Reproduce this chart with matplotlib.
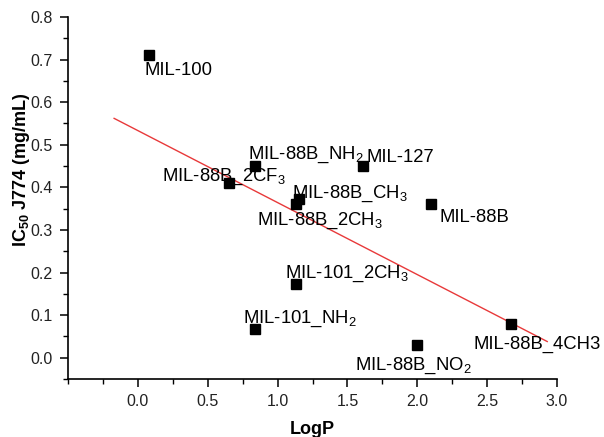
import matplotlib
matplotlib.use("Agg")
import matplotlib.pyplot as plt
from matplotlib.ticker import MultipleLocator

plt.rcParams['font.family'] = ['Liberation Sans', 'DejaVu Sans']
plt.rcParams['mathtext.fontset'] = 'custom'
plt.rcParams['mathtext.rm'] = 'Liberation Sans'
plt.rcParams['mathtext.bf'] = 'Liberation Sans:bold'
plt.rcParams['mathtext.default'] = 'regular'

# data
names = ["MIL-100", "MIL-88B_NH$_2$", "MIL-88B_2CF$_3$", "MIL-127", "MIL-88B",
         "MIL-88B_CH$_3$", "MIL-88B_2CH$_3$", "MIL-101_2CH$_3$", "MIL-101_NH$_2$",
         "MIL-88B_NO$_2$", "MIL-88B_4CH3"]
logp = [0.08, 0.84, 0.65, 1.61, 2.10, 1.15, 1.13, 1.13, 0.84, 2.00, 2.67]
ic50 = [0.71, 0.45, 0.41, 0.45, 0.362, 0.372, 0.362, 0.172, 0.068, 0.031, 0.08]
# label offsets in points (text left / baseline relative to point)
label_dx = [-3, -5, -48, 3, 6, -5, -28, -8, -9, -45, -27]
label_dy = [-14, 5, 2, 3, -13, 1, -15, 5, 4, -18, -18]

fit_x = [-0.17, 2.93]
fit_y = [0.562, 0.038]

fig = plt.figure(figsize=(6.04, 4.37), dpi=100)
ax = fig.add_axes([0.1126, 0.1327, 0.8096, 0.8284])

ax.plot(fit_x, fit_y, color='#e8393a', lw=1.0, zorder=2)
ax.plot(logp, ic50, 's', color='black', ms=6.5, zorder=3, clip_on=False)

for n, x, y, dx, dy in zip(names, logp, ic50, label_dx, label_dy):
    ax.annotate(n, (x, y), xytext=(dx, dy), textcoords='offset points',
                fontsize=13.3, ha='left', va='baseline', color='black')

ax.set_xlim(-0.5, 3.0)
ax.set_ylim(-0.05, 0.8)
ax.xaxis.set_minor_locator(MultipleLocator(0.25))
ax.yaxis.set_minor_locator(MultipleLocator(0.05))
ax.set_xticks([0.0, 0.5, 1.0, 1.5, 2.0, 2.5, 3.0])
ax.set_xticklabels(['0.0', '0.5', '1.0', '1.5', '2.0', '2.5', '3.0'])
ax.set_yticks([0.0, 0.1, 0.2, 0.3, 0.4, 0.5, 0.6, 0.7, 0.8])
ax.set_yticklabels(['0.0', '0.1', '0.2', '0.3', '0.4', '0.5', '0.6', '0.7', '0.8'])

for s in ['top', 'right']:
    ax.spines[s].set_visible(False)
for s in ['left', 'bottom']:
    ax.spines[s].set_linewidth(1.2)
ax.tick_params(which='major', direction='out', length=6, width=1.1, labelsize=11.5,
               colors='black', labelcolor='#222222', pad=5)
ax.tick_params(which='minor', direction='out', length=3.5, width=1.0)

ax.set_xlabel('LogP', fontsize=13, fontweight='bold')
ax.xaxis.set_label_coords(0.5, -0.116)
ax.set_ylabel('IC$_{50}$ J774 (mg/mL)', fontsize=13, fontweight='bold')
ax.yaxis.set_label_coords(-0.074, 0.577)

fig.savefig('out.png', dpi=100)
